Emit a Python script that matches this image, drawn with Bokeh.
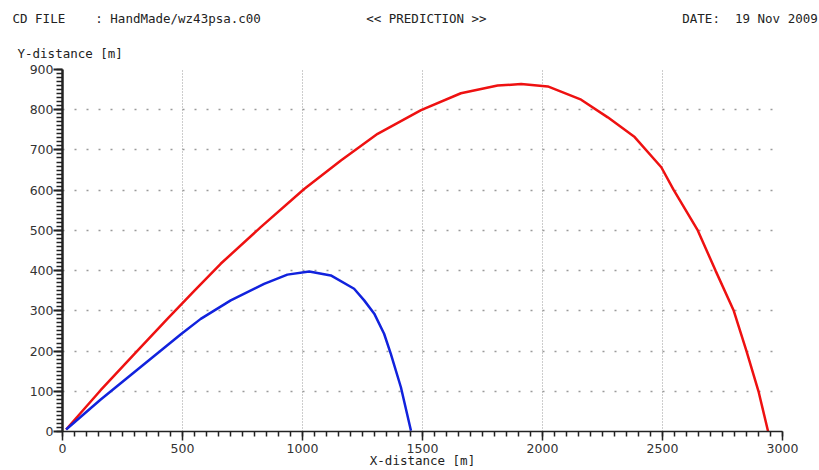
from bokeh.plotting import figure
from bokeh.models import Range1d, SingleIntervalTicker, Title
from bokeh.embed import file_html
from bokeh.resources import INLINE

# Trajectory data
red_x = [15, 158, 300, 437, 550, 659, 826, 1007, 1160, 1313, 1494, 1660, 1813, 1911,
         2022, 2161, 2272, 2384, 2495, 2547, 2647, 2721, 2797, 2850, 2900, 2940]
red_y = [5, 102, 193, 280, 350, 417, 508, 603, 674, 740, 799, 841, 860, 864,
         858, 825, 781, 732, 657, 600, 500, 400, 300, 200, 100, 0]

blue_x = [15, 158, 300, 492, 576, 701, 840, 937, 1028, 1118, 1215, 1257, 1299, 1340,
          1368, 1410, 1452]
blue_y = [5, 79, 148, 241, 280, 326, 367, 390, 398, 388, 355, 326, 293, 243,
          193, 110, 2]

NB = "\u00a0"
header_text = ("CD FILE" + NB * 4 + ": HandMade/wz43psa.c00" + NB * 14 +
               "<< PREDICTION >>" + NB * 26 + "DATE:" + NB * 2 + "19 Nov 2009")
y_title = "Y-distance [m]"
x_title = "X-distance [m]"

mono = "DejaVu Sans Mono"
W, H = 819, 470
p = figure(width=W, height=H, output_backend="svg", toolbar_location=None,
           x_range=Range1d(0, 3000), y_range=Range1d(0, 900),
           min_border_left=62, min_border_right=37, min_border_top=69, min_border_bottom=39)
p.outline_line_color = None
p.background_fill_color = "white"

p.title = Title(text=header_text, align="left", offset=-50, standoff=17,
                text_font=mono, text_font_size="12.5px", text_font_style="normal",
                text_color="#222222")
p.add_layout(Title(text=y_title, align="left", offset=-45, standoff=18,
                   text_font=mono, text_font_size="12.5px", text_font_style="normal",
                   text_color="#222222"), "above")

p.xaxis.ticker = SingleIntervalTicker(interval=500, num_minor_ticks=10)
p.yaxis.ticker = SingleIntervalTicker(interval=100, num_minor_ticks=10)

for ax in (p.xaxis, p.yaxis):
    ax.axis_line_color = "#222222"
    ax.major_tick_line_color = "#222222"
    ax.minor_tick_line_color = "#222222"
    ax.major_label_text_font = "DejaVu Sans"
    ax.major_label_text_font_size = "12.5px"
    ax.major_label_text_color = "#333333"
    ax.minor_tick_in = 0
    ax.major_tick_in = 0

p.yaxis.axis_line_width = 2.5
p.yaxis.major_tick_line_width = 2
p.yaxis.minor_tick_line_width = 1.5
p.yaxis.major_tick_out = 9
p.yaxis.minor_tick_out = 6
p.yaxis.major_label_standoff = 0

p.xaxis.axis_line_width = 1.5
p.xaxis.major_tick_line_width = 1.5
p.xaxis.minor_tick_line_width = 1.5
p.xaxis.major_tick_out = 9
p.xaxis.minor_tick_out = 5
p.xaxis.major_label_standoff = 3
p.xaxis.axis_label = x_title
p.xaxis.axis_label_text_font = mono
p.xaxis.axis_label_text_font_size = "12.5px"
p.xaxis.axis_label_text_font_style = "normal"
p.xaxis.axis_label_text_color = "#222222"
p.xaxis.axis_label_standoff = -3

p.xgrid.grid_line_color = "#9a9a9a"
p.xgrid.grid_line_dash = "1 2"
p.xgrid.grid_line_width = 1
p.ygrid.grid_line_color = "#9a9a9a"
p.ygrid.grid_line_dash = "2 10"
p.ygrid.grid_line_width = 1.5

p.line(red_x, red_y, line_color="#ee1111", line_width=2.5)
p.line(blue_x, blue_y, line_color="#1122dd", line_width=2.5)

open("out.html", "w").write(file_html(p, INLINE))
